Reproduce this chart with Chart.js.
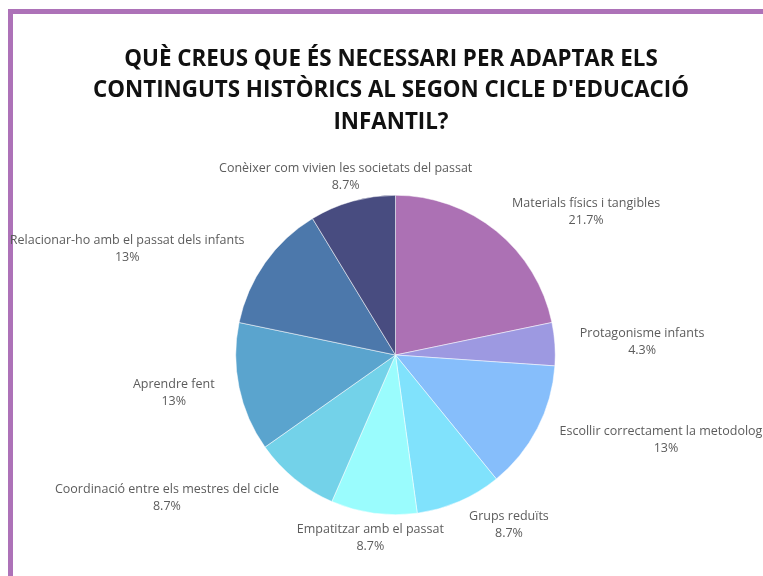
<!DOCTYPE html>
<html>
<head>
<meta charset="utf-8">
<script src="https://cdn.jsdelivr.net/npm/chart.js@4"></script>
<style>
  html, body { margin: 0; padding: 0; background: #fff; }
  body { width: 763px; height: 576px; overflow: hidden; position: relative; }
  #frame { position: absolute; left: 8px; top: 9px; width: 800px; height: 600px;
           border-top: 5px solid #ad72b8; border-left: 5px solid #ad72b8; }
  #chart { position: absolute; left: 0; top: 0; }
</style>
</head>
<body>
<div id="frame"></div>
<canvas id="chart" width="763" height="576"></canvas>
<script>
const titleLines = ["QUÈ CREUS QUE ÉS NECESSARI PER ADAPTAR ELS", "CONTINGUTS HISTÒRICS AL SEGON CICLE D'EDUCACIÓ", "INFANTIL?"];
const labels = ['Materials físics i tangibles', 'Protagonisme infants', 'Escollir correctament la metodologia',
    'Grups reduïts', 'Empatitzar amb el passat', 'Coordinació entre els mestres del cicle',
    'Aprendre fent', 'Relacionar-ho amb el passat dels infants', 'Conèixer com vivien les societats del passat'];
const answers = [5, 1, 3, 2, 2, 2, 3, 3, 2];
const colors = ['#ac71b4', '#9d99e1', '#86befb', '#80e2fc', '#9afcfd', '#73d2e9', '#5aa4ce', '#4c78ab', '#484c80'];

const total = answers.reduce((a, b) => a + b, 0);
const pct = v => Number((v / total * 100).toFixed(1)) + '%';

// title, squeezed a bit like the original condensed face
const titlePlugin = {
    id: 'titleText',
    afterDraw(chart) {
        const ctx = chart.ctx;
        ctx.save();
        ctx.font = "bold 24px 'Open Sans'";
        ctx.fillStyle = '#111';
        ctx.textAlign = 'center';
        ctx.textBaseline = 'alphabetic';
        const w = ctx.measureText(titleLines[1]).width;
        const sx = 596 / w;
        titleLines.forEach((line, i) => {
            ctx.save();
            ctx.translate(391, 65.5 + i * 31.5);
            ctx.scale(sx, 1);
            ctx.fillText(line, 0, 0);
            ctx.restore();
        });
        ctx.restore();
    }
};

// outside labels: name + percentage
const sliceLabels = {
    id: 'sliceLabels',
    afterDatasetsDraw(chart) {
        const ctx = chart.ctx;
        const arcs = chart.getDatasetMeta(0).data;
        ctx.save();
        ctx.font = "12.5px 'Open Sans'";
        ctx.fillStyle = '#5c5c5c';
        ctx.textBaseline = 'middle';
        arcs.forEach((arc, i) => {
            const mid = (arc.startAngle + arc.endAngle) / 2;
            const dx = Math.cos(mid), dy = Math.sin(mid);
            const r = arc.outerRadius + 25;
            const x = arc.x + dx * r, y = arc.y + dy * r;
            ctx.textAlign = 'center';
            let tx = x;
            if (Math.abs(dx) >= 0.3) {
                const w = Math.max(ctx.measureText(labels[i]).width, ctx.measureText(pct(answers[i])).width);
                tx = dx > 0 ? x + w / 2 : x - w / 2;
            }
            ctx.fillText(labels[i], tx, y - 8.5);
            ctx.fillText(pct(answers[i]), tx, y + 8.5);
        });
        ctx.restore();
    }
};

new Chart(document.getElementById('chart'), {
    type: 'pie',
    data: {
        labels: labels,
        datasets: [{
            data: answers,
            backgroundColor: colors,
            borderColor: '#ffffff',
            borderWidth: 0.5
        }]
    },
    options: {
        responsive: false,
        animation: false,
        layout: { padding: { top: 195, bottom: 61, left: 235, right: 207 } },
        plugins: {
            legend: { display: false },
            tooltip: { enabled: false }
        }
    },
    plugins: [titlePlugin, sliceLabels]
});
</script>
</body>
</html>
